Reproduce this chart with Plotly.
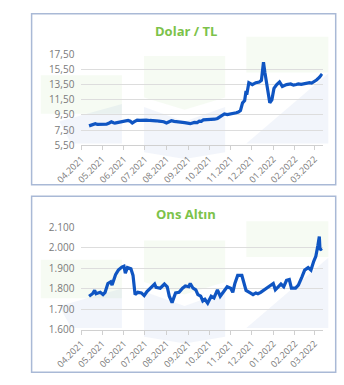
import plotly.graph_objects as go

# USD/TRY daily closes (sampled)
usd_dates = [
    "2021-04-12", "2021-04-14", "2021-04-17", "2021-04-19", "2021-04-21", "2021-04-24",
    "2021-04-27", "2021-04-30", "2021-05-04", "2021-05-07", "2021-05-11", "2021-05-14",
    "2021-05-17", "2021-05-19", "2021-05-24", "2021-05-28", "2021-06-02", "2021-06-07",
    "2021-06-10", "2021-06-13", "2021-06-16", "2021-06-20", "2021-06-24", "2021-06-29",
    "2021-07-03", "2021-07-08", "2021-07-12", "2021-07-17", "2021-07-21", "2021-07-25",
    "2021-07-28", "2021-08-01", "2021-08-04", "2021-08-08", "2021-08-12", "2021-08-17",
    "2021-08-22", "2021-08-27", "2021-09-04", "2021-09-07", "2021-09-10", "2021-09-14",
    "2021-09-17", "2021-09-20", "2021-09-23", "2021-09-28", "2021-10-02", "2021-10-05",
    "2021-10-09", "2021-10-13", "2021-10-16", "2021-10-20", "2021-10-23", "2021-10-27",
    "2021-11-01", "2021-11-05", "2021-11-09", "2021-11-12", "2021-11-15", "2021-11-18",
    "2021-11-21", "2021-11-23", "2021-11-24", "2021-11-27", "2021-12-02", "2021-12-07",
    "2021-12-12", "2021-12-15", "2021-12-18", "2021-12-20", "2021-12-24", "2021-12-27",
    "2021-12-30", "2022-01-02", "2022-01-06", "2022-01-10", "2022-01-14", "2022-01-20",
    "2022-01-26", "2022-01-30", "2022-02-03", "2022-02-06", "2022-02-10", "2022-02-15",
    "2022-02-18", "2022-02-22", "2022-02-25", "2022-03-01", "2022-03-04", "2022-03-08",
    "2022-03-12",
]
usd_values = [
    8.07, 8.12, 8.20, 8.34, 8.36, 8.26,
    8.28, 8.30, 8.32, 8.28, 8.45, 8.60,
    8.48, 8.44, 8.53, 8.58, 8.70, 8.78,
    8.68, 8.45, 8.62, 8.83, 8.80, 8.87,
    8.82, 8.78, 8.80, 8.74, 8.70, 8.66,
    8.62, 8.45, 8.60, 8.74, 8.66, 8.62,
    8.55, 8.49, 8.36, 8.42, 8.53, 8.50,
    8.70, 8.66, 8.87, 8.90, 8.91, 8.96,
    8.95, 9.05, 9.20, 9.40, 9.63, 9.55,
    9.63, 9.66, 9.80, 9.90, 10.10, 11.10,
    11.40, 12.66, 12.15, 13.75, 13.50, 13.75,
    13.84, 14.05, 16.45, 15.10, 12.57, 11.10,
    11.50, 13.00, 13.50, 13.84, 13.25, 13.50,
    13.58, 13.42, 13.50, 13.58, 13.52, 13.63,
    13.60, 13.75, 13.70, 13.92, 14.10, 14.43,
    14.90,
]

# Gold spot, USD per ounce (sampled)
gold_dates = [
    "2021-04-12", "2021-04-17", "2021-04-20", "2021-04-22", "2021-04-28", "2021-05-02",
    "2021-05-05", "2021-05-09", "2021-05-13", "2021-05-15", "2021-05-20", "2021-05-24",
    "2021-05-29", "2021-06-01", "2021-06-03", "2021-06-06", "2021-06-11", "2021-06-14",
    "2021-06-17", "2021-06-21", "2021-06-26", "2021-06-30", "2021-07-04", "2021-07-10",
    "2021-07-15", "2021-07-17", "2021-07-23", "2021-07-29", "2021-08-02", "2021-08-05",
    "2021-08-09", "2021-08-14", "2021-08-19", "2021-08-24", "2021-08-28", "2021-09-02",
    "2021-09-04", "2021-09-08", "2021-09-12", "2021-09-15", "2021-09-19", "2021-09-22",
    "2021-09-25", "2021-09-29", "2021-10-04", "2021-10-08", "2021-10-13", "2021-10-17",
    "2021-10-22", "2021-10-27", "2021-11-01", "2021-11-04", "2021-11-07", "2021-11-11",
    "2021-11-17", "2021-11-20", "2021-11-23", "2021-11-29", "2021-12-03", "2021-12-07",
    "2021-12-10", "2021-12-14", "2021-12-19", "2021-12-22", "2021-12-26", "2022-01-01",
    "2022-01-04", "2022-01-08", "2022-01-12", "2022-01-16", "2022-01-20", "2022-01-24",
    "2022-01-27", "2022-02-02", "2022-02-06", "2022-02-11", "2022-02-15", "2022-02-20",
    "2022-02-24", "2022-02-28", "2022-03-03", "2022-03-06", "2022-03-08", "2022-03-09",
    "2022-03-12",
]
gold_values = [
    1764, 1776, 1792, 1776, 1783, 1772,
    1783, 1826, 1834, 1818, 1869, 1891,
    1906, 1910, 1876, 1903, 1897, 1865,
    1772, 1783, 1780, 1767, 1787, 1807,
    1823, 1807, 1803, 1823, 1810, 1764,
    1733, 1780, 1783, 1803, 1814, 1810,
    1826, 1803, 1795, 1772, 1764, 1741,
    1749, 1730, 1764, 1756, 1795, 1764,
    1787, 1810, 1803, 1783, 1826, 1865,
    1865, 1826, 1792, 1780, 1772, 1780,
    1776, 1783, 1795, 1802, 1810, 1826,
    1795, 1810, 1823, 1810, 1841, 1845,
    1803, 1803, 1818, 1857, 1891, 1903,
    1891, 1934, 1958, 2012, 2054, 1989,
    1996,
]

usd_ticks = [5.5, 7.5, 9.5, 11.5, 13.5, 15.5, 17.5]
gold_ticks = [1600, 1700, 1800, 1900, 2000, 2100]

W, H = 344, 385
LINE = "#0f55c2"
GREEN = "#7cc24a"
GRAY = "#7a7a7a"
GRID = "#dddddd"
FONT = "Open Sans"


def px(x):
    return x / W


def py(y):
    return 1 - y / H


fig = go.Figure()
fig.add_trace(go.Scatter(x=usd_dates, y=usd_values, mode="lines",
                         line=dict(color=LINE, width=3.2), xaxis="x", yaxis="y",
                         showlegend=False))
fig.add_trace(go.Scatter(x=gold_dates, y=gold_values, mode="lines",
                         line=dict(color=LINE, width=3.2), xaxis="x2", yaxis="y2",
                         showlegend=False))

xcommon = dict(
    type="date", range=["2021-04-01", "2022-03-13"], tick0="2021-04-01", dtick="M1",
    tickformat="%m.%Y", tickangle=-45, ticks="outside", ticklen=4, tickcolor="#d0d0d0",
    showline=True, linecolor="#d0d0d0", showgrid=False, zeroline=False,
    tickfont=dict(family=FONT, size=9, color=GRAY), fixedrange=True,
)
ycommon = dict(
    showgrid=True, gridcolor=GRID, gridwidth=1, zeroline=False, ticks="",
    showline=False, tickfont=dict(family=FONT, size=10, color=GRAY),
    ticklabelstandoff=6, fixedrange=True,
)

plot_x = [px(59), px(321)]

fig.update_layout(
    width=W, height=H, margin=dict(l=0, r=0, t=0, b=0),
    paper_bgcolor="white", plot_bgcolor="rgba(0,0,0,0)",
    separators=",.",
    xaxis=dict(domain=plot_x, anchor="y", **xcommon),
    yaxis=dict(domain=[py(143), py(48)], anchor="x", range=[5.5, 17.5],
               tickvals=usd_ticks, tickformat=".2f", **ycommon),
    xaxis2=dict(domain=plot_x, anchor="y2", **xcommon),
    yaxis2=dict(domain=[py(335), py(228)], anchor="x2", range=[1600, 2100],
                tickvals=gold_ticks, tickformat=",.0f", **ycommon),
)

# Faint logo watermark behind each panel
wm_green = "rgba(130,195,80,0.07)"
wm_blue = "rgba(70,120,205,0.07)"


def poly(points, color, dy):
    path = "M " + " L ".join(f"{px(x)},{py(y + dy)}" for x, y in points) + " Z"
    fig.add_shape(type="path", path=path, xref="paper", yref="paper",
                  fillcolor=color, line=dict(width=0), layer="below")


for dy in (0, 192):
    poly([(15, 70), (103, 70), (103, 110), (15, 110)], wm_green, dy)
    poly([(35, 118), (103, 100), (103, 141), (48, 141)], wm_blue, dy)
    poly([(127, 50), (215, 50), (215, 93), (171, 106), (127, 93)], wm_green, dy)
    poly([(127, 103), (171, 118), (215, 103), (215, 150), (171, 157), (127, 150)], wm_blue, dy)
    poly([(238, 30), (327, 30), (327, 67), (238, 67)], wm_green, dy)
    poly([(238, 141), (327, 68), (327, 141)], wm_blue, dy)

# Panel frames
for top, bottom in ((6, 184), (196, 379)):
    fig.add_shape(type="rect", xref="paper", yref="paper",
                  x0=px(5), x1=px(335), y0=py(bottom), y1=py(top),
                  line=dict(color="#a9b9d6", width=1.5), fillcolor="rgba(0,0,0,0)")

# Panel titles
for text, y in (("Dolar / TL", 24), ("Ons Altın", 214)):
    fig.add_annotation(text=f"<b>{text}</b>", xref="paper", yref="paper",
                       x=px(172), y=py(y), showarrow=False, xanchor="center",
                       yanchor="middle", font=dict(family=FONT, size=13, color=GREEN))

fig.write_html("out.html")
